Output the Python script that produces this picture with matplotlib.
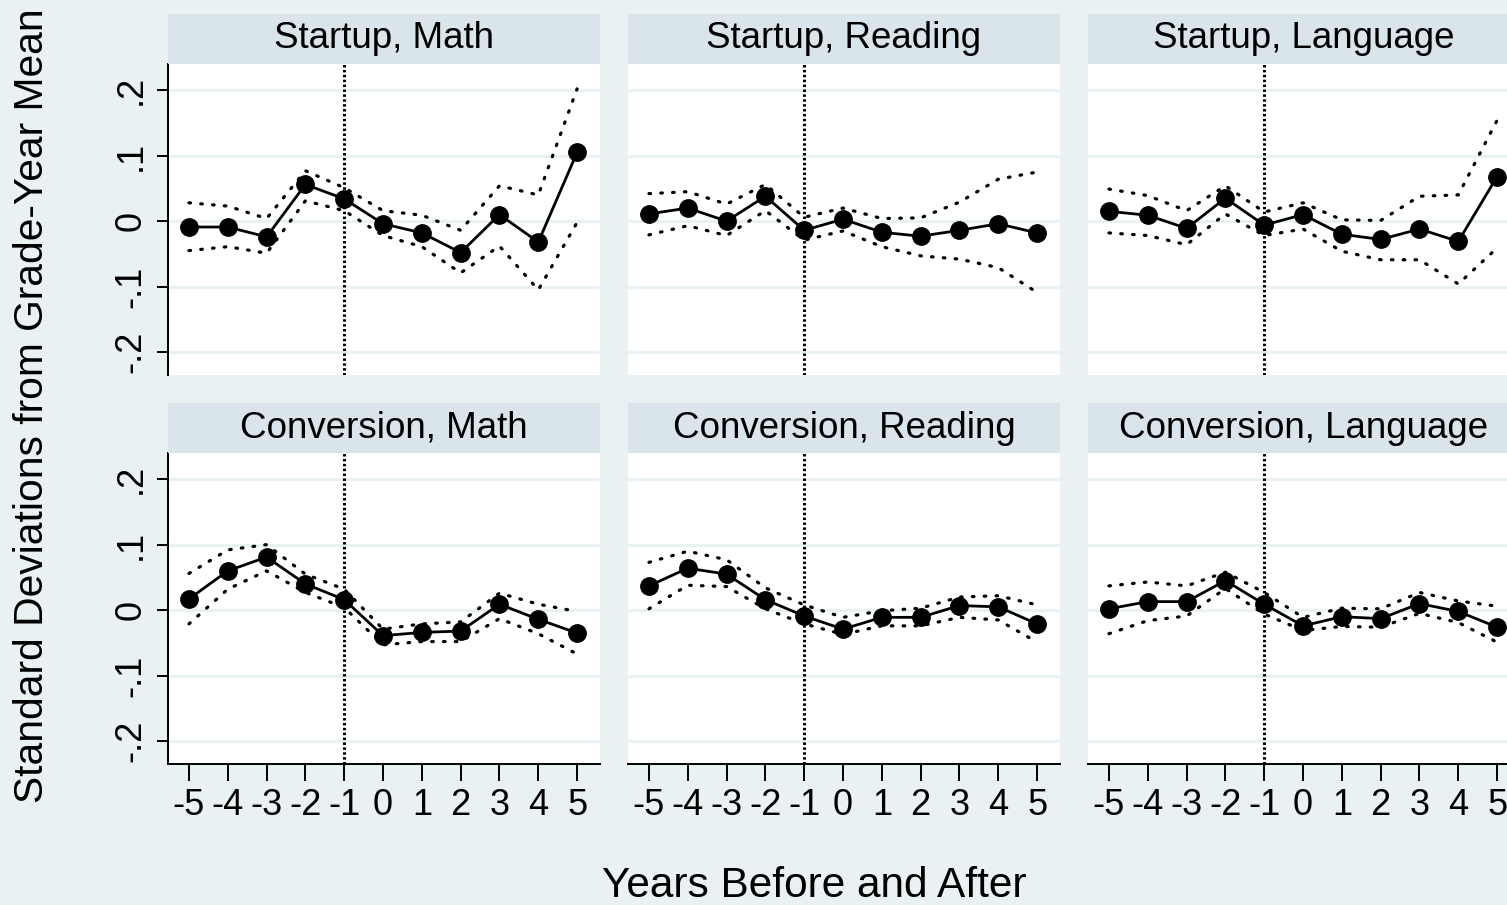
import matplotlib.pyplot as plt

plt.rcParams['font.family'] = ['Liberation Sans', 'DejaVu Sans']

years = [-5, -4, -3, -2, -1, 0, 1, 2, 3, 4, 5]
panel_titles = ['Startup, Math', 'Startup, Reading', 'Startup, Language',
                'Conversion, Math', 'Conversion, Reading', 'Conversion, Language']
y_ticks = [-0.2, -0.1, 0, 0.1, 0.2]
y_tick_labels = ['-.2', '-.1', '0', '.1', '.2']

# point estimates
startup_math = [-0.009, -0.009, -0.024, 0.056, 0.034, -0.004, -0.018, -0.048, 0.010, -0.032, 0.105]
startup_read = [0.011, 0.020, 0.000, 0.038, -0.014, 0.003, -0.017, -0.023, -0.014, -0.004, -0.018]
startup_lang = [0.015, 0.009, -0.011, 0.035, -0.006, 0.010, -0.020, -0.028, -0.012, -0.031, 0.068]
conv_math = [0.017, 0.060, 0.081, 0.040, 0.016, -0.039, -0.034, -0.032, 0.009, -0.014, -0.035]
conv_read = [0.037, 0.064, 0.055, 0.016, -0.009, -0.029, -0.011, -0.011, 0.007, 0.005, -0.021]
conv_lang = [0.002, 0.013, 0.013, 0.045, 0.009, -0.024, -0.010, -0.013, 0.010, -0.002, -0.026]

# upper confidence bounds
startup_math_hi = [0.028, 0.023, 0.004, 0.077, 0.051, 0.016, 0.009, -0.014, 0.054, 0.040, 0.202]
startup_read_hi = [0.042, 0.045, 0.026, 0.056, 0.006, 0.020, 0.004, 0.005, 0.029, 0.064, 0.075]
startup_lang_hi = [0.049, 0.039, 0.016, 0.054, 0.014, 0.028, 0.002, 0.001, 0.038, 0.040, 0.154]
conv_math_hi = [0.056, 0.092, 0.100, 0.055, 0.032, -0.029, -0.021, -0.018, 0.026, 0.009, -0.002]
conv_read_hi = [0.073, 0.090, 0.077, 0.034, 0.008, -0.011, -0.001, 0.003, 0.020, 0.022, 0.008]
conv_lang_hi = [0.037, 0.043, 0.037, 0.058, 0.027, -0.011, 0.003, 0.002, 0.027, 0.014, 0.006]

# lower confidence bounds
startup_math_lo = [-0.045, -0.039, -0.049, 0.031, 0.016, -0.022, -0.039, -0.079, -0.038, -0.105, -0.002]
startup_read_lo = [-0.021, -0.007, -0.022, 0.016, -0.029, -0.015, -0.039, -0.053, -0.058, -0.071, -0.109]
startup_lang_lo = [-0.018, -0.022, -0.036, 0.011, -0.022, -0.012, -0.046, -0.059, -0.059, -0.096, -0.041]
conv_math_lo = [-0.021, 0.032, 0.060, 0.027, 0.004, -0.053, -0.048, -0.048, -0.013, -0.036, -0.067]
conv_read_lo = [0.002, 0.038, 0.036, 0.002, -0.021, -0.037, -0.024, -0.024, -0.011, -0.015, -0.049]
conv_lang_lo = [-0.036, -0.016, -0.009, 0.033, -0.006, -0.031, -0.025, -0.026, -0.005, -0.019, -0.049]

estimates = [startup_math, startup_read, startup_lang, conv_math, conv_read, conv_lang]
upper = [startup_math_hi, startup_read_hi, startup_lang_hi, conv_math_hi, conv_read_hi, conv_lang_hi]
lower = [startup_math_lo, startup_read_lo, startup_lang_lo, conv_math_lo, conv_read_lo, conv_lang_lo]

bg = '#eaf1f3'
strip_color = '#d9e5eb'

W, H = 1507, 905
fig = plt.figure(figsize=(W / 100, H / 100), dpi=100, facecolor=bg)

col_left = [168, 628, 1088]
row_top = [64, 453]
ax_w, ax_h = 432, 311
strip_h = 50

for i in range(6):
    r, c = divmod(i, 3)
    left = col_left[c] / W
    bottom = 1 - (row_top[r] + ax_h) / H
    ax = fig.add_axes([left, bottom, ax_w / W, ax_h / H])
    ax.set_facecolor('white')

    # title strip
    sax = fig.add_axes([left, 1 - row_top[r] / H, ax_w / W, strip_h / H])
    sax.set_facecolor(strip_color)
    sax.set_xticks([])
    sax.set_yticks([])
    for s in sax.spines.values():
        s.set_visible(False)
    sax.text(0.5, 0.5, panel_titles[i], ha='center', va='center', fontsize=26.5, transform=sax.transAxes)

    for yv in y_ticks:
        ax.axhline(yv, color=bg, lw=2.2, zorder=0)
    ax.axvline(-1, color='black', lw=2.2, linestyle=(0, (0.8, 0.8)), zorder=1)

    ax.plot(years, upper[i], color='black', lw=2.3, linestyle=(0, (0.5, 3.2)),
            dash_capstyle='round', zorder=2)
    ax.plot(years, lower[i], color='black', lw=2.3, linestyle=(0, (0.5, 3.2)),
            dash_capstyle='round', zorder=2)
    ax.plot(years, estimates[i], color='black', lw=2.0, marker='o', markersize=12.5, zorder=3)

    ax.set_xlim(-5.54, 5.59)
    ax.set_ylim(-0.235, 0.24)

    for s in ['top', 'right']:
        ax.spines[s].set_visible(False)
    if c == 0:
        ax.spines['left'].set_linewidth(1.4)
        ax.set_yticks(y_ticks)
        ax.set_yticklabels(y_tick_labels, rotation=90, va='center')
        ax.tick_params(axis='y', length=8, width=1.4, labelsize=26, pad=6)
    else:
        ax.spines['left'].set_visible(False)
        ax.set_yticks(y_ticks)
        ax.tick_params(axis='y', length=0, labelleft=False)
    if r == 1:
        ax.spines['bottom'].set_linewidth(1.4)
        ax.set_xticks(years)
        ax.set_xticklabels([str(y) for y in years])
        ax.tick_params(axis='x', length=12, width=1.4, labelsize=26, pad=5)
    else:
        ax.spines['bottom'].set_visible(False)
        ax.set_xticks([])

fig.text(814 / W, 1 - 886 / H, 'Years Before and After', ha='center', va='center', fontsize=30.5)
fig.text(32 / W, 1 - 406 / H, 'Standard Deviations from Grade-Year Mean', ha='center', va='center',
         rotation=90, fontsize=29.3)

fig.savefig('out.png', dpi=100, facecolor=bg)
